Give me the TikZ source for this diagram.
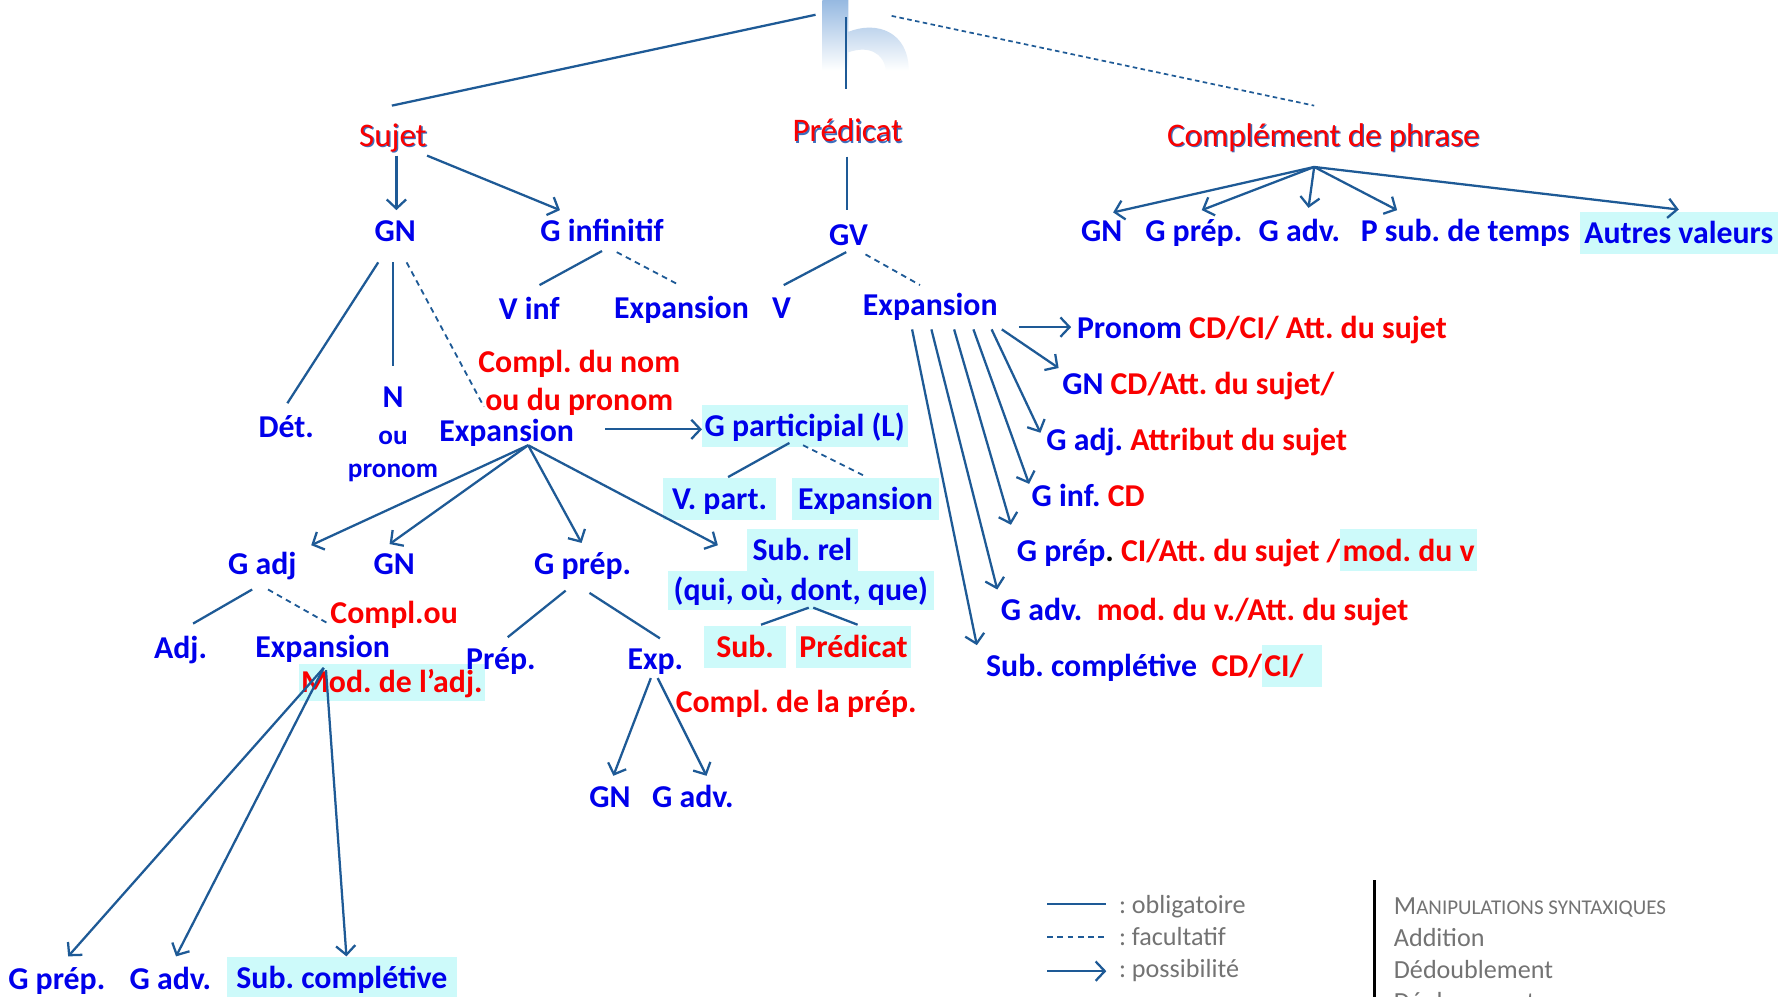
\documentclass[tikz,border=0pt]{standalone}
\usepackage{fontspec}
\setmainfont{Carlito}
\usetikzlibrary{arrows.meta,calc}
\frenchspacing
\definecolor{tblue}{RGB}{0,0,235}
\definecolor{tred}{RGB}{250,0,0}
\definecolor{lblue}{RGB}{30,90,150}
\definecolor{hlc}{RGB}{205,250,250}
\definecolor{lgray}{RGB}{115,115,115}
\definecolor{shblue}{RGB}{60,110,190}
\definecolor{wmblue}{RGB}{150,185,225}
\newcommand{\shtxt}[1]{\rlap{\hspace{1.2pt}\raisebox{-1.2pt}{\textcolor{shblue}{#1}}}\textcolor{tred}{#1}}
\newcommand{\hlbox}[1]{{\setlength{\fboxsep}{2pt}\colorbox{hlc}{\rule[-7pt]{0pt}{33pt}#1}}}
\begin{document}
\begin{tikzpicture}[x=1pt,y=-1pt,
  lab/.style={inner sep=0pt, text height=22pt, text depth=4pt, font=\fontsize{28}{30}\selectfont\bfseries, text=tblue},
  labr/.style={lab, text=tred},
  smalllab/.style={lab, font=\fontsize{24}{26}\selectfont\bfseries},
  head/.style={inner sep=0pt, text height=22pt, text depth=4pt, font=\fontsize{29}{31}\selectfont},
  hl/.style={fill=hlc, inner xsep=0pt, minimum height=37pt},
  ob/.style={draw=lblue, line width=2pt},
  fac/.style={draw=lblue, line width=1.6pt, dash pattern=on 5pt off 4pt},
  arr/.style={draw=lblue, line width=2pt, -{Straight Barb[length=8pt,width=17pt]}},
  leg/.style={inner sep=0pt, anchor=west, text height=18pt, text depth=3pt, font=\fontsize{23}{25}\selectfont, text=lgray},
]
\useasboundingbox (0,0) rectangle (1568,877);
\clip (0,0) rectangle (1568,877);
\fill[white] (0,0) rectangle (1568,877);
% watermark
\shade[top color=wmblue, bottom color=white] (724,0) -- (747,0) -- (747,28) .. controls (772,18) and (800,28) .. (800,62) -- (780,62) .. controls (778,46) and (764,40) .. (747,46) -- (747,62) -- (724,62) -- cycle;
\coordinate (top) at (745,13);
% headings
\node[head] (sujet) at (346,120) {\shtxt{Sujet}};
\node[head] (pred) at (746,116) {\shtxt{Prédicat}};
\node[head] (cdp) at (1165,120) {\shtxt{Complément de phrase}};
% row 2
\node[lab] (gn1) at (348,204) {GN};
\node[lab] (ginf) at (530,204) {G infinitif};
\node[lab] (gv) at (747,207) {GV};
\node[lab] (cgn) at (970,204) {GN};
\node[lab] (cgprep) at (1051,204) {G prép.};
\node[lab] (cgadv) at (1144,204) {G adv.};
\node[lab] (cpsub) at (1290,204) {P sub. de temps};
\node[lab,hl,minimum width=174pt] (cautres) at (1478,205.5) {Autres valeurs};
% row 3
\node[lab] (vinf) at (466,272) {V inf};
\node[lab] (exp1) at (600,271) {Expansion};
\node[lab] (v) at (688,271) {V};
\node[lab] (exp2) at (819,269) {Expansion};
% GN subtree
\node[lab] (det) at (252,376) {Dét.};
\node[lab] (n) at (346,350) {N};
\node[smalllab] (ou) at (346,382) {ou};
\node[smalllab] (pronom) at (346,411) {pronom};
\node[labr] (cdn1) at (510,319) {Compl. du nom};
\node[labr] (cdn2) at (510,352) {ou du pronom};
\node[lab] (exp3) at (446,380) {Expansion};
\node[lab,hl,minimum width=181pt] (gpart) at (708.5,375) {G participial (L)};
\node[lab,hl,minimum width=99pt] (vpart) at (633.5,439.5) {V. part.};
\node[lab,hl,minimum width=130pt] (exp4) at (762,439.5) {Expansion};
\node[lab] (gadj) at (231,497) {G adj};
\node[lab] (gn2) at (347,497) {GN};
\node[lab] (gprep) at (513,497) {G prép.};
\node[lab,hl,minimum width=97pt] (subrel) at (706.5,484.5) {Sub. rel};
\node[lab,hl,minimum width=234pt,minimum height=34pt] (qui) at (705,520) {(qui, où, dont, que)};
\node[lab] (adj) at (159,571) {Adj.};
\node[labr,hl,minimum width=164pt,minimum height=32pt] (modadj) at (345,601) {Mod. de l’adj.};
\node[lab] (exp5) at (284,570) {Expansion};
\node[labr] (complou) at (347,540) {Compl.ou};
\node[lab] (prep) at (441,580) {Prép.};
\node[lab] (expb) at (577,580) {Exp.};
\node[labr,hl,minimum width=72pt] (sub) at (656,569.5) {Sub.};
\node[labr,hl,minimum width=101pt] (predb) at (751.5,569.5) {Prédicat};
\node[labr] (cdlp) at (701,618) {Compl. de la prép.};
\node[lab] (gn3) at (537,702) {GN};
\node[lab] (gadv3) at (610,702) {G adv.};
\node[lab] (bgprep) at (50,862) {G prép.};
\node[lab] (bgadv) at (150,862) {G adv.};
\node[lab,hl,minimum width=202pt] (bsub) at (301,861) {Sub. complétive};
% right list
\node[lab,anchor=west] (r1) at (948,289) {Pronom \textcolor{tred}{CD/CI/ Att. du sujet}};
\node[lab,anchor=west] (r2) at (935,338) {GN \textcolor{tred}{CD/Att. du sujet/}};
\node[lab,anchor=west] (r3) at (921,388) {G adj. \textcolor{tred}{Attribut du sujet}};
\node[lab,anchor=west] (r4) at (908,437) {G inf. \textcolor{tred}{CD}};
\node[lab,anchor=west] (r5) at (895,485) {G prép\textcolor{black}{.} \textcolor{tred}{CI/Att. du sujet /\hlbox{mod. du v}}};
\node[lab,anchor=west] (r6) at (881,537) {G adv.\ \ \textcolor{tred}{mod. du v./Att. du sujet}};
\node[lab,anchor=west] (r7) at (868,587) {Sub. complétive\ \ \textcolor{tred}{CD/\hlbox{CI/\hspace*{14pt}}}};
% top connectors
\draw[ob] ($(top)+(-27,0)$) -- ($(sujet)+(-1,-27)$);
\draw[ob] ($(top)+(0,2)$) -- ($(pred)+(-1,-38)$);
\draw[fac,line width=1.5pt,dash pattern=on 4pt off 3pt] ($(top)+(40,1)$) -- ($(cdp)+(-8,-27)$);
\draw[arr] ($(sujet)+(3,17)$) -- ($(gn1)+(1,-19)$);
\draw[arr] ($(sujet)+(30,17)$) -- ($(ginf)+(-37,-19)$);
\draw[ob] ($(pred)+(0,22)$) -- ($(gv)+(-1,-22)$);
\foreach \t/\dx/\dy in {cgn/10/-17, cgprep/7/-19, cgadv/8/-21, cpsub/-60/-19, cautres/0/-21}
  \draw[arr] ($(cdp)+(-8,27)$) -- ($(\t)+(\dx,\dy)$);
\draw[ob] ($(ginf)+(0,17)$) -- ($(vinf)+(9,-21)$);
\draw[fac] ($(ginf)+(13,18)$) -- ($(exp1)+(-2,-20)$);
\draw[ob] ($(gv)+(-2,15)$) -- ($(v)+(2,-20)$);
\draw[fac] ($(gv)+(15,17)$) -- ($(exp2)+(-9,-18)$);
% GN subtree
\draw[ob] ($(gn1)+(-15,27)$) -- ($(det)+(1,-21)$);
\draw[ob] ($(gn1)+(-2,27)$) -- ($(n)+(0,-28)$);
\draw[fac] ($(gn1)+(10,27)$) -- ($(exp3)+(-20,-22)$);
\draw[arr] ($(exp3)+(87,-2)$) -- ($(gpart)+(-90.5,3)$);
\draw[ob] ($(gpart)+(-13.5,15)$) -- ($(vpart)+(7.5,-19.5)$);
\draw[fac] ($(gpart)+(-1.5,17)$) -- ($(exp4)+(1,-19.5)$);
\foreach \t/\dx/\dy in {gadj/43/-17, gn2/-4/-18, gprep/-1/-19, subrel/-74.5/-4.5}
  \draw[arr] ($(exp3)+(19,12)$) -- ($(\t)+(\dx,\dy)$);
\draw[ob] ($(gadj)+(-9,22)$) -- ($(adj)+(11,-22)$);
\draw[fac] ($(gadj)+(5,22)$) -- ($(exp5)+(5,-21)$);
\draw[ob] ($(gprep)+(-15,23)$) -- ($(prep)+(6,-19)$);
\draw[ob] ($(gprep)+(6,25)$) -- ($(expb)+(4,-18)$);
\draw[ob] ($(qui)+(7,15)$) -- ($(sub)+(14,-19.5)$);
\draw[ob] ($(qui)+(11,15)$) -- ($(predb)+(3.5,-19.5)$);
\draw[arr] ($(expb)+(-4,17)$) -- ($(gn3)+(3,-19)$);
\draw[arr] ($(expb)+(2,17)$) -- ($(gadv3)+(12,-19)$);
\draw[arr] ($(exp5)+(1,18)$) -- ($(bgprep)+(10,-20)$);
\draw[arr] ($(exp5)+(1,18)$) -- ($(bgadv)+(5,-20)$);
\draw[arr] ($(exp5)+(3,20)$) -- ($(bsub)+(4,-19)$);
% right fan
\draw[arr] ($(exp2)+(78,19)$) -- ($(r1.west)+(-5,-1)$);
\draw[arr] ($(exp2)+(63,21)$) -- ($(r2.west)+(-3,-14)$);
\draw[arr] ($(exp2)+(54,21)$) -- ($(r3.west)+(-5,-7)$);
\draw[arr] ($(exp2)+(38,21)$) -- ($(r4.west)+(-2,-11)$);
\draw[arr] ($(exp2)+(21,21)$) -- ($(r5.west)+(-5,-23)$);
\draw[arr] ($(exp2)+(1,21)$) -- ($(r6.west)+(-3,-18)$);
\draw[arr] ($(exp2)+(-16,21)$) -- ($(r7.west)+(-8,-19)$);
% legend
\node[leg] (l1) at (985,797) {: obligatoire};
\node[leg] (l2) at (985,825) {: facultatif};
\node[leg] (l3) at (985,853) {: possibilité};
\draw[ob] ($(l1.west)+(-63,-1)$) -- ($(l1.west)+(-11,-1)$);
\draw[fac] ($(l2.west)+(-63,0)$) -- ($(l2.west)+(-11,0)$);
\draw[arr] ($(l3.west)+(-63,2)$) -- ($(l3.west)+(-11,2)$);
\node[leg] (m1) at (1227,798) {M{\fontsize{18.5}{20}\selectfont ANIPULATIONS SYNTAXIQUES}};
\node[leg] (m2) at (1227,826) {Addition};
\node[leg] (m3) at (1227,854) {Dédoublement};
\node[leg] (m4) at (1227,882) {Déplacement};
\coordinate (vl) at (1210,775);
\draw[black, line width=2pt] (vl) -- ++(0,110);
\end{tikzpicture}
\end{document}
